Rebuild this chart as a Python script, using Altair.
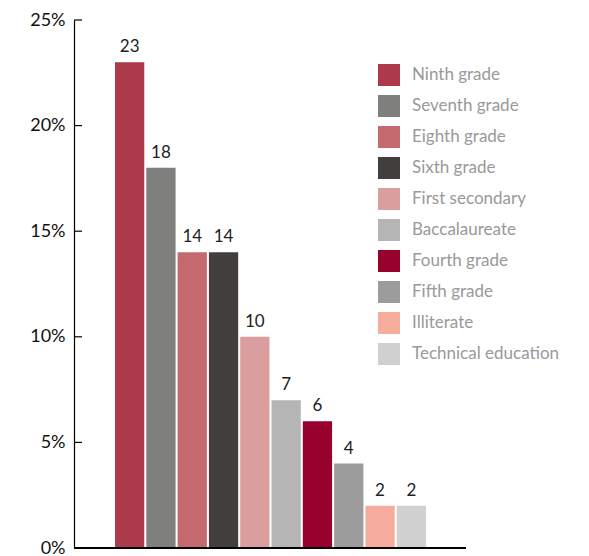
import altair as alt
import pandas as pd

categories = ["Ninth grade", "Seventh grade", "Eighth grade", "Sixth grade",
              "First secondary", "Baccalaureate", "Fourth grade", "Fifth grade",
              "Illiterate", "Technical education"]
values = [23, 18, 14, 14, 10, 7, 6, 4, 2, 2]
colors = ["#AD3A4A", "#7F7F7D", "#C4696D", "#41403E", "#DB9E9E",
          "#B5B5B5", "#98002E", "#9C9C9C", "#F5AC9C", "#D0D0D0"]
y_ticks = [0, 5, 10, 15, 20, 25]

df = pd.DataFrame({"cat": categories, "val": values})
ticks_df = pd.DataFrame({"t": y_ticks})

FONT = "Lato"

x_scale = alt.Scale(range=[41, 352], paddingInner=0.065, paddingOuter=0)
y_scale = alt.Scale(domain=[0, 25], nice=False)

bars = alt.Chart(df).mark_bar().encode(
    x=alt.X("cat:N", sort=categories, axis=None, scale=x_scale),
    y=alt.Y("val:Q", scale=y_scale,
            axis=alt.Axis(values=y_ticks, labelExpr="datum.value + '%'",
                          tickSize=0, labelPadding=9, grid=False,
                          domainColor="#000000", domainWidth=1.2,
                          labelFont=FONT, labelFontSize=18, labelColor="#111111",
                          title=None)),
    color=alt.Color("cat:N", sort=categories,
                    scale=alt.Scale(domain=categories, range=colors),
                    legend=alt.Legend(title=None, orient="none", legendX=304, legendY=44,
                                      symbolType="square", symbolSize=484,
                                      symbolStrokeWidth=0, symbolOpacity=1,
                                      labelFont=FONT, labelFontSize=17,
                                      labelColor="#999999", labelOffset=12,
                                      rowPadding=9, labelLimit=300)),
)

labels = alt.Chart(df).mark_text(baseline="bottom", dy=-6, font=FONT,
                                 fontSize=17, color="#222222").encode(
    x=alt.X("cat:N", sort=categories, axis=None, bandPosition=0.5, scale=x_scale),
    y=alt.Y("val:Q", scale=y_scale),
    text=alt.Text("val:Q"),
)

tick_rules = alt.Chart(ticks_df).mark_rule(color="#000000", strokeWidth=1.2).encode(
    y=alt.Y("t:Q", scale=y_scale),
    x=alt.value(0), x2=alt.value(8),
)

baseline = alt.Chart(ticks_df).mark_rule(color="#000000", strokeWidth=1.5).encode(
    y=alt.datum(0),
    x=alt.value(0), x2=alt.value(392),
)

chart = alt.layer(bars, labels, tick_rules, baseline).properties(
    width=392, height=528,
    autosize=alt.AutoSizeParams(type="none"),
    padding={"left": 66, "top": 12, "right": 105, "bottom": 8},
).configure_view(stroke=None)

chart.save("out.html", embed_options={"renderer": "svg", "actions": False})
